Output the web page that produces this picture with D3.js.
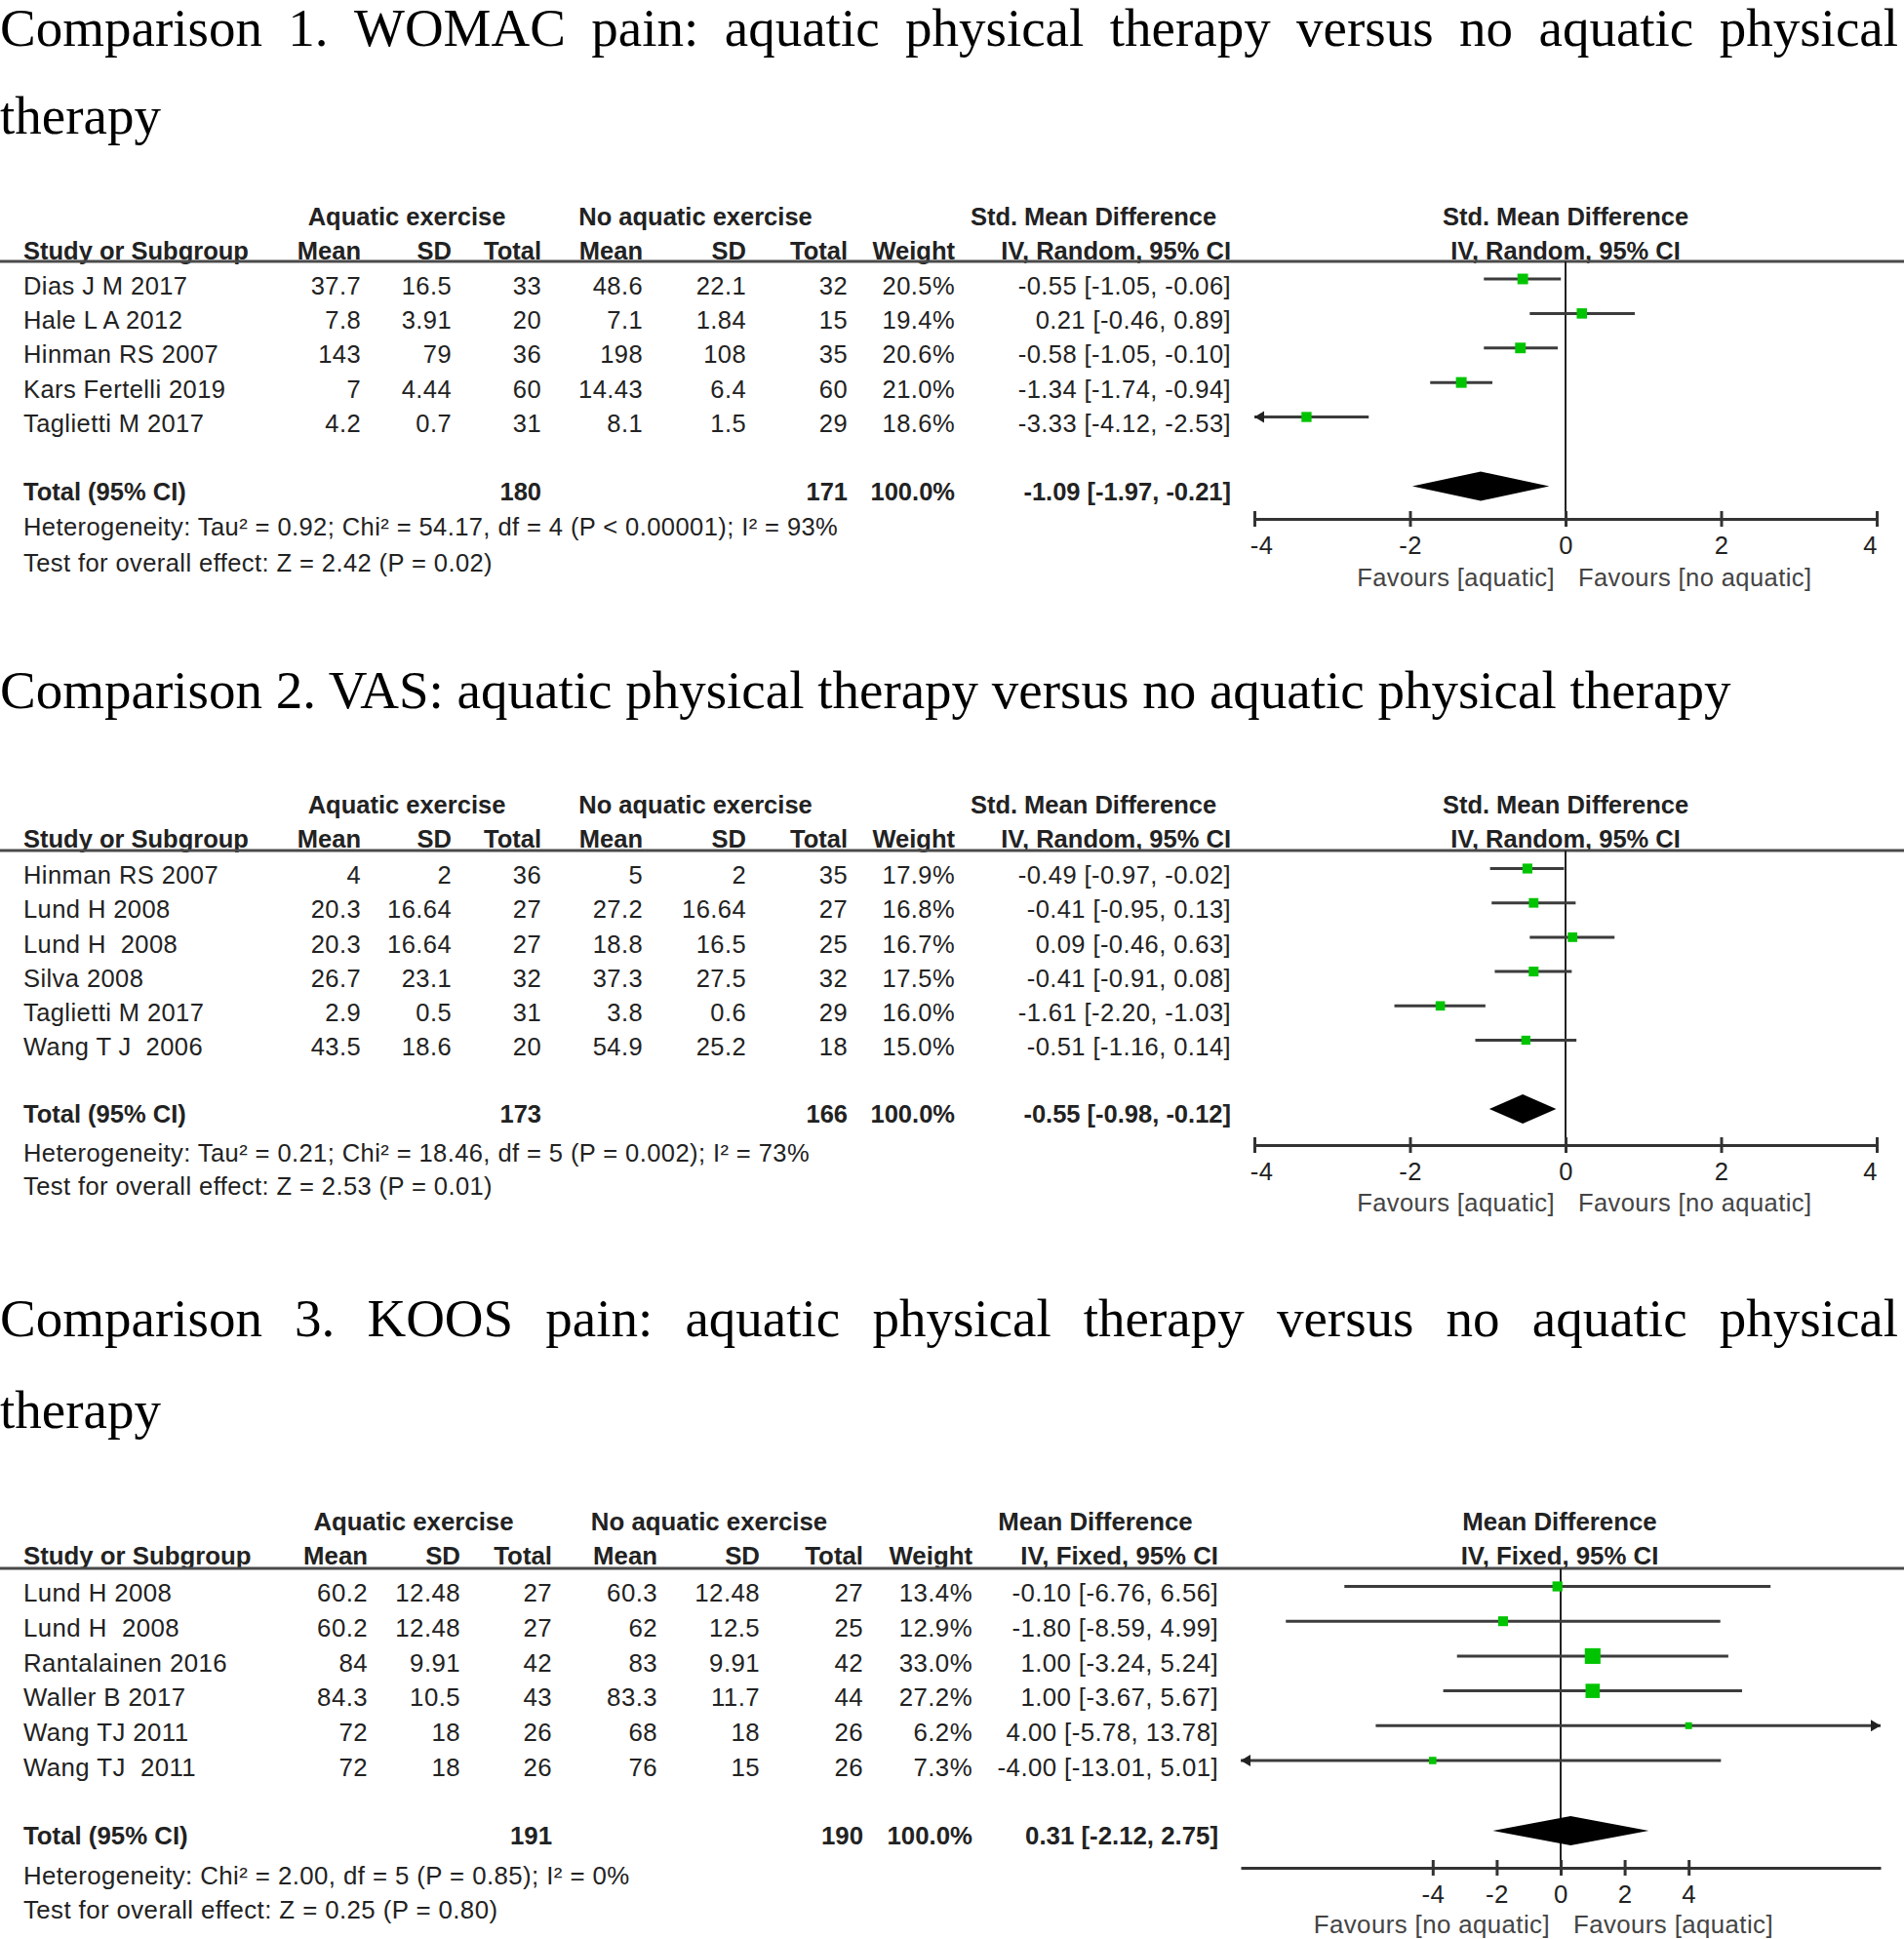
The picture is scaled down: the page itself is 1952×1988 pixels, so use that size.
<!DOCTYPE html>
<html>
<head>
<meta charset="utf-8">
<script src="https://cdn.jsdelivr.net/npm/d3@7"></script>
<style>
  body { margin: 0; background: #fff; }
  svg text { font-family: "Liberation Sans", Arial, sans-serif; fill: #222; }
  svg text.title { font-family: "Liberation Serif", "Times New Roman", serif; font-size: 55px; fill: #000; }
</style>
</head>
<body>
<div id="wrapper"></div>
<script>

// ---- Comparison 1: WOMAC pain ----
const studies1 = ["Dias J M 2017", "Hale L A 2012", "Hinman RS 2007", "Kars Fertelli 2019", "Taglietti M 2017"]
const expMean1 = [37.7, 7.8, 143, 7, 4.2]
const expSD1 = [16.5, 3.91, 79, 4.44, 0.7]
const expN1 = [33, 20, 36, 60, 31]
const ctlMean1 = [48.6, 7.1, 198, 14.43, 8.1]
const ctlSD1 = [22.1, 1.84, 108, 6.4, 1.5]
const ctlN1 = [32, 15, 35, 60, 29]
const weight1 = [20.5, 19.4, 20.6, 21.0, 18.6]
const est1 = [-0.55, 0.21, -0.58, -1.34, -3.33]
const lo1 = [-1.05, -0.46, -1.05, -1.74, -4.12]
const hi1 = [-0.06, 0.89, -0.10, -0.94, -2.53]
const totals1 = [180, 171]
const pooled1 = [-1.09, -1.97, -0.21]
const het1 = "Heterogeneity: Tau² = 0.92; Chi² = 54.17, df = 4 (P < 0.00001); I² = 93%"
const test1 = "Test for overall effect: Z = 2.42 (P = 0.02)"

// ---- Comparison 2: VAS ----
const studies2 = ["Hinman RS 2007", "Lund H 2008", "Lund H  2008", "Silva 2008", "Taglietti M 2017", "Wang T J  2006"]
const expMean2 = [4, 20.3, 20.3, 26.7, 2.9, 43.5]
const expSD2 = [2, 16.64, 16.64, 23.1, 0.5, 18.6]
const expN2 = [36, 27, 27, 32, 31, 20]
const ctlMean2 = [5, 27.2, 18.8, 37.3, 3.8, 54.9]
const ctlSD2 = [2, 16.64, 16.5, 27.5, 0.6, 25.2]
const ctlN2 = [35, 27, 25, 32, 29, 18]
const weight2 = [17.9, 16.8, 16.7, 17.5, 16.0, 15.0]
const est2 = [-0.49, -0.41, 0.09, -0.41, -1.61, -0.51]
const lo2 = [-0.97, -0.95, -0.46, -0.91, -2.20, -1.16]
const hi2 = [-0.02, 0.13, 0.63, 0.08, -1.03, 0.14]
const totals2 = [173, 166]
const pooled2 = [-0.55, -0.98, -0.12]
const het2 = "Heterogeneity: Tau² = 0.21; Chi² = 18.46, df = 5 (P = 0.002); I² = 73%"
const test2 = "Test for overall effect: Z = 2.53 (P = 0.01)"

// ---- Comparison 3: KOOS pain ----
const studies3 = ["Lund H 2008", "Lund H  2008", "Rantalainen 2016", "Waller B 2017", "Wang TJ 2011", "Wang TJ  2011"]
const expMean3 = [60.2, 60.2, 84, 84.3, 72, 72]
const expSD3 = [12.48, 12.48, 9.91, 10.5, 18, 18]
const expN3 = [27, 27, 42, 43, 26, 26]
const ctlMean3 = [60.3, 62, 83, 83.3, 68, 76]
const ctlSD3 = [12.48, 12.5, 9.91, 11.7, 18, 15]
const ctlN3 = [27, 25, 42, 44, 26, 26]
const weight3 = [13.4, 12.9, 33.0, 27.2, 6.2, 7.3]
const est3 = [-0.10, -1.80, 1.00, 1.00, 4.00, -4.00]
const lo3 = [-6.76, -8.59, -3.24, -3.67, -5.78, -13.01]
const hi3 = [6.56, 4.99, 5.24, 5.67, 13.78, 5.01]
const totals3 = [191, 190]
const pooled3 = [0.31, -2.12, 2.75]
const het3 = "Heterogeneity: Chi² = 2.00, df = 5 (P = 0.85); I² = 0%"
const test3 = "Test for overall effect: Z = 0.25 (P = 0.80)"

const tickValues = [-4, -2, 0, 2, 4]

// 1. Dimensions

const width = 1952
const height = 1988

const wrapper = d3.select("#wrapper")
  .append("svg")
    .attr("width", width)
    .attr("height", height)

wrapper.append("rect")
    .attr("width", width)
    .attr("height", height)
    .attr("fill", "#fff")

// 2. Titles

function titleLine(s, y, justifyTo) {
  const t = wrapper.append("text")
      .attr("class", "title")
      .attr("y", y)
  if (!justifyTo) {
    t.attr("x", 0).text(s)
    return
  }
  // spread words so the line fills the column, like justified text
  const words = s.split(" ")
  const widths = words.map(w => {
    const tmp = wrapper.append("text").attr("class", "title").text(w)
    const l = tmp.node().getComputedTextLength()
    tmp.remove()
    return l
  })
  const gap = (justifyTo - d3.sum(widths)) / (words.length - 1)
  let x = 0
  words.forEach((w, i) => {
    t.append("tspan").attr("x", x).text(w)
    x += widths[i] + gap
  })
}

titleLine("Comparison 1. WOMAC pain: aquatic physical therapy versus no aquatic physical", 47, 1946)
titleLine("therapy", 137)
titleLine("Comparison 2. VAS: aquatic physical therapy versus no aquatic physical therapy", 726)
titleLine("Comparison 3. KOOS pain: aquatic physical therapy versus no aquatic physical", 1370, 1946)
titleLine("therapy", 1464)

// 3. Forest plots

const f2 = v => v.toFixed(2)
const ciText = (e, l, h) => `${f2(e)} [${f2(l)}, ${f2(h)}]`

function drawForest(cfg, d) {
  const g = wrapper.append("g")
  const c = cfg.cols
  const fontSize = cfg.fontSize

  function label(x, y, s, anchor, bold) {
    return g.append("text")
        .attr("x", x)
        .attr("y", y)
        .attr("dy", "0.36em")
        .attr("text-anchor", anchor)
        .attr("xml:space", "preserve")
        .style("white-space", "pre")
        .style("font-size", fontSize + "px")
        .style("font-weight", bold ? "bold" : "normal")
        .style("letter-spacing", bold ? "0px" : "0.42px")
        .text(s)
  }

  const rows = d.studies.map((s, i) => ({
    study: s,
    cells: [d.expMean[i], d.expSD[i], d.expN[i], d.ctlMean[i], d.ctlSD[i], d.ctlN[i]].map(String),
    weight: d.weight[i],
    est: d.est[i], lo: d.lo[i], hi: d.hi[i],
  }))

  const xScale = d3.scaleLinear()
    .domain(cfg.domain)
    .range(cfg.range)

  const yScale = d3.scalePoint()
    .domain(d.studies)
    .range([cfg.rowFirst, cfg.rowLast])

  const sizeScale = d3.scaleSqrt()
    .domain([0, 100])
    .range([0, cfg.boxMax])

  // headers
  label(c.grpE, cfg.head1, "Aquatic exercise", "middle", true)
  label(c.grpC, cfg.head1, "No aquatic exercise", "middle", true)
  label(c.effHead, cfg.head1, cfg.measure, "middle", true)
  label(cfg.plotCenter, cfg.head1, cfg.measure, "middle", true)

  label(24, cfg.head2, "Study or Subgroup", "start", true)
  const subHeads = ["Mean", "SD", "Total", "Mean", "SD", "Total", "Weight"]
  subHeads.forEach((h, i) => label(c.num[i], cfg.head2, h, "end", true))
  label(c.ci, cfg.head2, cfg.method, "end", true)
  label(cfg.plotCenter, cfg.head2, cfg.method, "middle", true)

  g.append("line")
      .attr("x1", 0).attr("x2", width)
      .attr("y1", cfg.lineY).attr("y2", cfg.lineY)
      .attr("stroke", "#4a4a4a")
      .attr("stroke-width", 3)

  // zero line
  g.append("line")
      .attr("x1", xScale(0)).attr("x2", xScale(0))
      .attr("y1", cfg.lineY).attr("y2", cfg.axisY)
      .attr("stroke", "#222")
      .attr("stroke-width", 2)

  // study rows
  const textOff = 6.5
  rows.forEach(r => {
    const y = yScale(r.study)
    label(24, y + textOff, r.study, "start", false)
    r.cells.forEach((v, i) => label(c.num[i], y + textOff, v, "end", false))
    label(c.num[6], y + textOff, r.weight.toFixed(1) + "%", "end", false)
    label(c.ci, y + textOff, ciText(r.est, r.lo, r.hi), "end", false)

    const [d0, d1] = cfg.domain
    const l = Math.max(r.lo, d0)
    const h = Math.min(r.hi, d1)
    g.append("line")
        .attr("x1", xScale(l)).attr("x2", xScale(h))
        .attr("y1", y).attr("y2", y)
        .attr("stroke", "#3c3c3c")
        .attr("stroke-width", 3)
    if (r.lo < d0) {
      const xa = xScale(d0)
      g.append("path")
          .attr("d", `M${xa},${y} L${xa + 10},${y - 6} L${xa + 10},${y + 6} Z`)
          .attr("fill", "#222")
    }
    if (r.hi > d1) {
      const xa = xScale(d1)
      g.append("path")
          .attr("d", `M${xa},${y} L${xa - 10},${y - 6} L${xa - 10},${y + 6} Z`)
          .attr("fill", "#222")
    }
    const s = sizeScale(r.weight)
    g.append("rect")
        .attr("x", xScale(r.est) - s / 2)
        .attr("y", y - s / 2)
        .attr("width", s)
        .attr("height", s)
        .attr("fill", "#00c400")
  })

  // total row
  const ty = cfg.totalY
  label(24, ty + 5, "Total (95% CI)", "start", true)
  label(c.num[2], ty + 5, String(d.totals[0]), "end", true)
  label(c.num[5], ty + 5, String(d.totals[1]), "end", true)
  label(c.num[6], ty + 5, "100.0%", "end", true)
  label(c.ci, ty + 5, ciText(...d.pooled), "end", true)

  const [pe, pl, ph] = d.pooled
  g.append("path")
      .attr("d", `M${xScale(pl)},${ty} L${xScale(pe)},${ty - 15} L${xScale(ph)},${ty} L${xScale(pe)},${ty + 15} Z`)
      .attr("fill", "#000")

  label(24, cfg.hetY, d.het, "start", false)
  label(24, cfg.testY, d.test, "start", false)

  // axis
  const xAxisGenerator = d3.axisBottom(xScale)
    .tickValues(tickValues)
    .tickSize(0)
    .tickSizeOuter(0)
    .tickFormat(v => String(v))

  const xAxis = g.append("g")
      .attr("transform", `translate(0, ${cfg.axisY})`)
      .call(xAxisGenerator)

  xAxis.select(".domain")
      .attr("stroke", "#333")
      .attr("stroke-width", 3)
  xAxis.selectAll(".tick line")
      .attr("y1", -8)
      .attr("y2", 8)
      .attr("stroke", "#333")
      .attr("stroke-width", 3)
  // end labels sit a little inside the outer ticks
  const [r0, r1] = cfg.range
  xAxis.selectAll(".tick text")
      .attr("x", v => xScale(v) === r0 ? 7 : xScale(v) === r1 ? -7 : 0)
      .attr("y", 27)
      .attr("dy", "0.36em")
      .style("font-family", "'Liberation Sans', Arial, sans-serif")
      .style("font-size", fontSize + "px")
      .style("letter-spacing", "0.42px")
      .attr("fill", "#333")

  const zx = xScale(0)
  label(zx - 11, cfg.axisY + cfg.favOff, cfg.favLeft, "end", false).style("fill", "#444")
  label(zx + 13, cfg.axisY + cfg.favOff, cfg.favRight, "start", false).style("fill", "#444")
}

const colsSMD = {
  num: [370, 463, 555, 659, 765, 869, 979],
  ci: 1262, grpE: 417, grpC: 713, effHead: 1121,
}
const colsMD = {
  num: [377, 472, 566, 674, 779, 885, 997],
  ci: 1249, grpE: 424, grpC: 727, effHead: 1123,
}

drawForest({
  cols: colsSMD, measure: "Std. Mean Difference", method: "IV, Random, 95% CI", fontSize: 25.5,
  domain: [-4, 4], range: [1286, 1924], plotCenter: 1605, boxMax: 24,
  head1: 221.5, head2: 256.5, lineY: 268, rowFirst: 286, rowLast: 427.5,
  totalY: 498.5, hetY: 540, testY: 576.5, axisY: 532, favOff: 60,
  favLeft: "Favours [aquatic]", favRight: "Favours [no aquatic]",
}, {
  studies: studies1, expMean: expMean1, expSD: expSD1, expN: expN1,
  ctlMean: ctlMean1, ctlSD: ctlSD1, ctlN: ctlN1, weight: weight1,
  est: est1, lo: lo1, hi: hi1, totals: totals1, pooled: pooled1, het: het1, test: test1,
})

drawForest({
  cols: colsSMD, measure: "Std. Mean Difference", method: "IV, Random, 95% CI", fontSize: 25.5,
  domain: [-4, 4], range: [1286, 1924], plotCenter: 1605, boxMax: 24,
  head1: 825, head2: 860, lineY: 872, rowFirst: 890.5, rowLast: 1066.5,
  totalY: 1137, hetY: 1182, testY: 1215.5, axisY: 1174, favOff: 59,
  favLeft: "Favours [aquatic]", favRight: "Favours [no aquatic]",
}, {
  studies: studies2, expMean: expMean2, expSD: expSD2, expN: expN2,
  ctlMean: ctlMean2, ctlSD: ctlSD2, ctlN: ctlN2, weight: weight2,
  est: est2, lo: lo2, hi: hi2, totals: totals2, pooled: pooled2, het: het2, test: test2,
})

drawForest({
  cols: colsMD, measure: "Mean Difference", method: "IV, Fixed, 95% CI", fontSize: 25.8,
  domain: [-10, 10], range: [1272, 1928], plotCenter: 1599, boxMax: 28,
  head1: 1560, head2: 1595, lineY: 1608, rowFirst: 1626.5, rowLast: 1805,
  totalY: 1877, hetY: 1923, testY: 1958, axisY: 1915, favOff: 57.5,
  favLeft: "Favours [no aquatic]", favRight: "Favours [aquatic]",
}, {
  studies: studies3, expMean: expMean3, expSD: expSD3, expN: expN3,
  ctlMean: ctlMean3, ctlSD: ctlSD3, ctlN: ctlN3, weight: weight3,
  est: est3, lo: lo3, hi: hi3, totals: totals3, pooled: pooled3, het: het3, test: test3,
})

</script>
</body>
</html>
